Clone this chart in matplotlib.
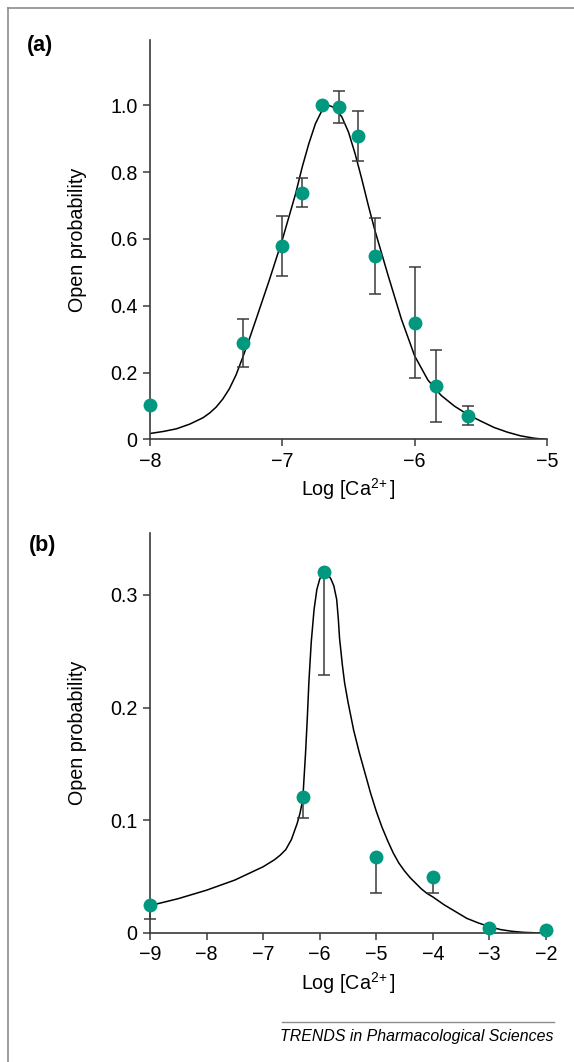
import matplotlib
matplotlib.use("Agg")
import matplotlib.pyplot as plt
from matplotlib.lines import Line2D

plt.rcParams['font.family'] = ['Liberation Sans', 'DejaVu Sans']
plt.rcParams['mathtext.fontset'] = 'custom'
plt.rcParams['mathtext.rm'] = 'Liberation Sans'
plt.rcParams['mathtext.it'] = 'Liberation Sans:italic'

# ---- panel (a): data points with symmetric error bars
a_x = [-8.0, -7.3, -7.0, -6.85, -6.7, -6.57, -6.43, -6.3, -6.0, -5.84, -5.6]
a_y = [0.103, 0.288, 0.579, 0.739, 1.0, 0.995, 0.908, 0.549, 0.349, 0.161, 0.071]
a_err = [0.0, 0.072, 0.089, 0.043, 0.0, 0.049, 0.075, 0.114, 0.166, 0.108, 0.028]

# fitted curve
a_fit_x = [-8.0, -7.9, -7.8, -7.7, -7.6, -7.55, -7.5, -7.45, -7.4, -7.35, -7.3, -7.25,
           -7.2, -7.1, -7.0, -6.9, -6.85, -6.8, -6.75, -6.7, -6.65, -6.6, -6.55, -6.5,
           -6.45, -6.4, -6.35, -6.3, -6.2, -6.1, -6.0, -5.9, -5.8, -5.7, -5.6, -5.5,
           -5.4, -5.3, -5.2, -5.1, -5.0]
a_fit_y = [0.018, 0.024, 0.032, 0.046, 0.065, 0.079, 0.097, 0.121, 0.152, 0.193, 0.245,
           0.300, 0.358, 0.475, 0.598, 0.735, 0.815, 0.885, 0.945, 0.985, 1.0, 0.992,
           0.965, 0.920, 0.855, 0.780, 0.700, 0.625, 0.490, 0.360, 0.250, 0.178, 0.132,
           0.100, 0.075, 0.055, 0.036, 0.022, 0.011, 0.004, 0.0]

# ---- panel (b): data points with lower error bars only
b_x = [-9.0, -6.3, -5.92, -5.0, -4.0, -3.0, -2.0]
b_y = [0.025, 0.1207, 0.320, 0.0672, 0.0497, 0.0042, 0.0027]
b_err_low = [0.0125, 0.0184, 0.091, 0.0314, 0.0139, 0.0, 0.0]

b_fit_x = [-9.0, -8.5, -8.0, -7.5, -7.0, -6.8, -6.7, -6.6, -6.5, -6.45, -6.4, -6.35,
           -6.3, -6.28, -6.25, -6.22, -6.19, -6.15, -6.1, -6.05, -6.0, -5.95, -5.9,
           -5.85, -5.8, -5.75, -5.7, -5.67, -5.65, -5.6, -5.56, -5.5, -5.4, -5.3, -5.2,
           -5.1, -5.0, -4.9, -4.8, -4.7, -4.6, -4.5, -4.4, -4.3, -4.2, -4.1, -4.0,
           -3.8, -3.6, -3.4, -3.2, -3.0, -2.8, -2.6, -2.4, -2.2, -2.0]
b_fit_y = [0.0243, 0.0305, 0.038, 0.047, 0.0588, 0.065, 0.069, 0.074, 0.083, 0.090,
           0.097, 0.106, 0.118, 0.135, 0.160, 0.190, 0.224, 0.258, 0.287, 0.305, 0.314,
           0.319, 0.320, 0.318, 0.314, 0.308, 0.296, 0.278, 0.262, 0.238, 0.222, 0.205,
           0.180, 0.160, 0.142, 0.124, 0.108, 0.094, 0.082, 0.071, 0.062, 0.055, 0.049,
           0.044, 0.039, 0.035, 0.032, 0.025, 0.019, 0.013, 0.009, 0.0056, 0.003, 0.0015,
           0.0006, 0.0002, 0.0]

a_yticks = [0, 0.2, 0.4, 0.6, 0.8, 1.0]
a_ylabels = ['0', '0.2', '0.4', '0.6', '0.8', '1.0']
a_xticks = [-8, -7, -6, -5]
b_yticks = [0, 0.1, 0.2, 0.3]
b_ylabels = ['0', '0.1', '0.2', '0.3']
b_xticks = [-9, -8, -7, -6, -5, -4, -3, -2]

teal = '#00997f'
axis_col = '#3a3a3a'
fs = 14.2

W, H = 574, 1062
fig = plt.figure(figsize=(W / 100, H / 100), dpi=100)


def style(ax, xticks, yticks, ylabels, width_px):
    for s in ['top', 'right']:
        ax.spines[s].set_visible(False)
    for s in ['left', 'bottom']:
        ax.spines[s].set_color(axis_col)
        ax.spines[s].set_linewidth(1.2)
    ax.set_xticks(xticks)
    ax.set_xticklabels(['\u2212%d' % -t for t in xticks])
    ax.set_yticks(yticks)
    ax.set_yticklabels(ylabels)
    ax.tick_params(direction='out', length=5, width=1.1, color=axis_col,
                   labelsize=fs, pad=4)
    ax.set_xlabel(r'Log [Ca$^{2\!+}$]', fontsize=fs, labelpad=4)
    ax.set_ylabel('Open probability', fontsize=fs)
    ax.yaxis.set_label_coords((87 - 150) / width_px, 0.5)


# panel (a)
axa = fig.add_axes([150 / W, 1 - 439.5 / H, 397 / W, 400 / H])
axa.set_xlim(-8, -5)
axa.set_ylim(0, 1.197)
axa.plot(a_fit_x, a_fit_y, color='black', lw=1.1, zorder=2)
axa.errorbar(a_x, a_y, yerr=a_err, fmt='none', ecolor=axis_col, elinewidth=1.1,
             capsize=4, capthick=1.1, zorder=3, clip_on=False)
axa.plot(a_x, a_y, 'o', color=teal, markersize=10, markeredgewidth=0, zorder=4, clip_on=False)
style(axa, a_xticks, a_yticks, a_ylabels, 397)

# panel (b)
axb = fig.add_axes([150 / W, 1 - 933 / H, 396 / W, 400 / H])
axb.set_xlim(-9, -2)
axb.set_ylim(0, 0.355)
axb.plot(b_fit_x, b_fit_y, color='black', lw=1.1, zorder=2)
axb.errorbar(b_x, b_y, yerr=[b_err_low, [0] * len(b_x)], fmt='none', ecolor=axis_col,
             elinewidth=1.1, capsize=4, capthick=1.1, zorder=3, clip_on=False)
axb.plot(b_x, b_y, 'o', color=teal, markersize=10, markeredgewidth=0, zorder=4, clip_on=False)
style(axb, b_xticks, b_yticks, b_ylabels, 396)

# panel letters
fig.text(27 / W, 1 - 46 / H, '(a)', fontsize=15.5, fontweight='bold', va='center')
fig.text(29 / W, 1 - 546 / H, '(b)', fontsize=15.5, fontweight='bold', va='center')

# outer frame (left and top edge) and footer
fig.add_artist(Line2D([8 / W, 8 / W], [0, 1 - 8 / H], color='#8c8c8c', lw=1.2))
fig.add_artist(Line2D([8 / W, 1], [1 - 8 / H, 1 - 8 / H], color='#8c8c8c', lw=1.2))
fig.add_artist(Line2D([282 / W, 554 / W], [1 - 1022 / H, 1 - 1022 / H], color='#8c8c8c', lw=1.0))
fig.text(554 / W, 1 - 1036 / H, 'TRENDS in Pharmacological Sciences', fontsize=11.4,
         style='italic', ha='right', va='center')

fig.savefig('out.png', dpi=100)
